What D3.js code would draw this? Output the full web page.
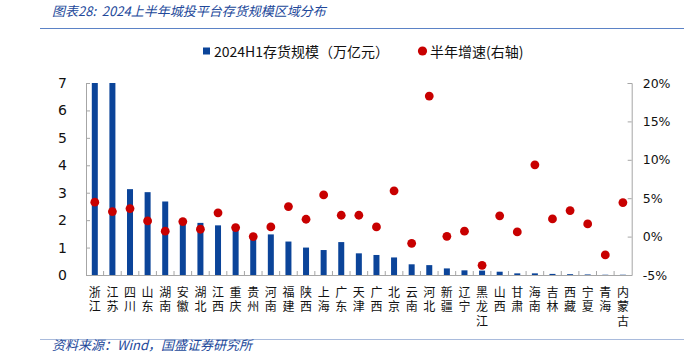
<!DOCTYPE html>
<html><head><meta charset="utf-8">
<script src="https://cdn.jsdelivr.net/npm/d3@7/dist/d3.min.js"></script>
<style>
html,body{margin:0;padding:0;background:#fff;}
svg{display:block;}
</style></head>
<body>
<script>
const categories = ["浙江","江苏","四川","山东","湖南","安徽","湖北","江西","重庆","贵州","河南","福建","陕西","上海","广东","天津","广西","北京","云南","河北","新疆","辽宁","黑龙江","山西","甘肃","海南","吉林","西藏","宁夏","青海","内蒙古"];
const inventory = [7.0,7.0,3.13,3.02,2.68,1.88,1.90,1.81,1.72,1.33,1.48,1.22,1.00,0.91,1.20,0.79,0.73,0.64,0.39,0.36,0.24,0.17,0.16,0.12,0.06,0.06,0.04,0.03,0.02,0.01,0.01];
const growth = [4.48,3.26,3.65,2.04,0.70,1.96,0.96,3.09,1.17,0.0,1.26,3.91,2.26,5.43,2.78,2.78,1.26,5.96,-0.87,18.3,0.04,0.70,-3.74,2.70,0.61,9.35,2.30,3.39,1.65,-2.39,4.43];
const leftTicks = [0,1,2,3,4,5,6,7];
const rightTicks = [-5,0,5,10,15,20];
const titleText = "图表28:  2024上半年城投平台存货规模区域分布";
const sourceText = "资料来源：Wind，国盛证券研究所";
const legendBar = "2024H1存货规模（万亿元）";
const legendDot = "半年增速(右轴)";

const W = 684, H = 356;
const m = {left: 86, right: 631.7, top: 83, bottom: 275};
const blue = "#0b4499", red = "#c80000", axisGray = "#a6a6a6", titleBlue = "#22489a";
const cjk = "'Noto Sans CJK SC','Noto Sans',sans-serif";
const num = "'DejaVu Sans','Liberation Sans',sans-serif";

const svg = d3.select("body").append("svg").attr("width", W).attr("height", H);

// title and rules
svg.append("text").attr("x", 52).attr("y", 16).attr("font-family", cjk).attr("font-size", 13)
  .attr("font-style", "italic").attr("fill", titleBlue).attr("xml:space", "preserve").text(titleText);
svg.append("line").attr("x1", 40).attr("x2", W).attr("y1", 28.5).attr("y2", 28.5)
  .attr("stroke", "#5b82c6").attr("stroke-width", 1);
svg.append("line").attr("x1", 40).attr("x2", W).attr("y1", 339.5).attr("y2", 339.5)
  .attr("stroke", "#a9bbdc").attr("stroke-width", 1);
svg.append("text").attr("x", 52).attr("y", 350).attr("font-family", cjk).attr("font-size", 13)
  .attr("font-style", "italic").attr("fill", titleBlue).text(sourceText);

// scales
const xb = d3.scaleBand().domain(categories).range([m.left, m.right]);
const yL = d3.scaleLinear().domain([0, 7]).range([m.bottom, m.top]).clamp(true);
const yR = d3.scaleLinear().domain([-5, 20]).range([m.bottom, m.top]);

// bars
svg.append("g").selectAll("rect").data(categories).join("rect")
  .attr("x", (d) => xb(d) + xb.bandwidth()/2 - 3)
  .attr("width", 6)
  .attr("y", (d, i) => yL(inventory[i]))
  .attr("height", (d, i) => yL(0) - yL(inventory[i]))
  .attr("fill", blue);

// left axis
const gL = svg.append("g").attr("transform", `translate(${m.left},0)`)
  .call(d3.axisLeft(yL).tickValues(leftTicks).tickSize(-4).tickPadding(19).tickFormat(d3.format("d")));
gL.select(".domain").attr("stroke", axisGray);
gL.selectAll(".tick line").attr("stroke", axisGray);
gL.selectAll("text").attr("font-family", num).attr("font-size", 14).attr("fill", "#111");

// right axis
const gR = svg.append("g").attr("transform", `translate(${m.right},0)`)
  .call(d3.axisRight(yR).tickValues(rightTicks).tickSize(-4).tickPadding(11).tickFormat(d => d + "%"));
gR.select(".domain").attr("stroke", axisGray);
gR.selectAll(".tick line").attr("stroke", axisGray);
gR.selectAll("text").attr("font-family", num).attr("font-size", 12.5).attr("fill", "#111");

// x axis baseline with ticks between categories
const gX = svg.append("g");
gX.append("line").attr("x1", m.left).attr("x2", m.right).attr("y1", m.bottom + 0.5).attr("y2", m.bottom + 0.5)
  .attr("stroke", axisGray);
gX.selectAll("line.t").data(categories.slice(1)).join("line").attr("class", "t")
  .attr("x1", d => xb(d)).attr("x2", d => xb(d))
  .attr("y1", m.bottom).attr("y2", m.bottom - 4).attr("stroke", axisGray);

// vertical category labels, one character per line
const lab = svg.append("g").attr("font-family", cjk).attr("font-size", 12).attr("fill", "#111");
categories.forEach((c) => {
  const cx = xb(c) + xb.bandwidth()/2;
  Array.from(c).forEach((ch, j) => {
    lab.append("text").attr("x", cx).attr("y", 291 + j * 14.5)
      .attr("text-anchor", "middle").attr("dominant-baseline", "central").text(ch);
  });
});

// dots
svg.append("g").selectAll("circle").data(categories).join("circle")
  .attr("cx", d => xb(d) + xb.bandwidth()/2)
  .attr("cy", (d, i) => yR(growth[i]))
  .attr("r", 4.4).attr("fill", red);

// legend
const lg = svg.append("g").attr("font-family", cjk).attr("font-size", 14).attr("fill", "#111");
lg.append("rect").attr("x", 203).attr("y", 47.5).attr("width", 7).attr("height", 7).attr("fill", blue);
lg.append("text").attr("x", 214).attr("y", 51).attr("dominant-baseline", "central").text(legendBar);
lg.append("circle").attr("cx", 422.5).attr("cy", 51).attr("r", 4.6).attr("fill", red);
lg.append("text").attr("x", 430).attr("y", 51).attr("dominant-baseline", "central").text(legendDot);
</script>
</body></html>
